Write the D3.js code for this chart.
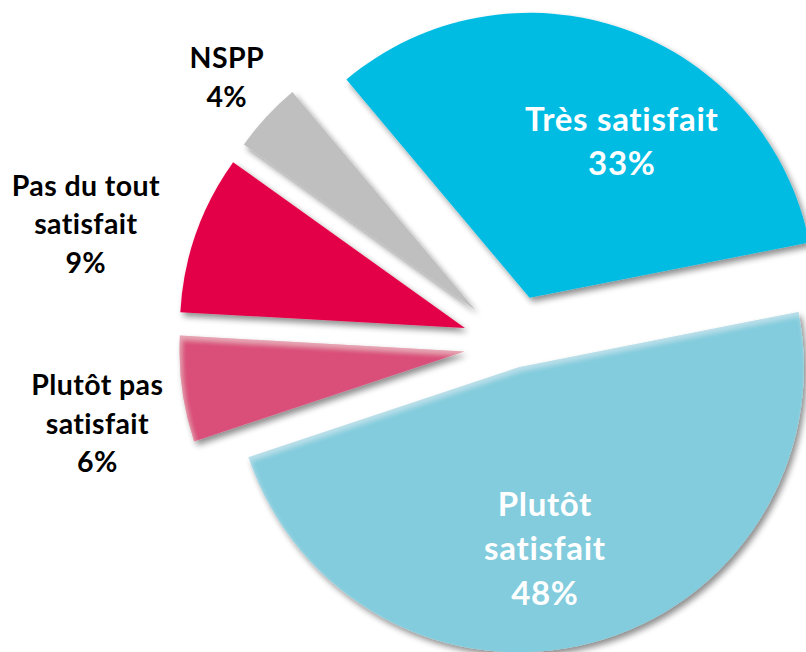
<!DOCTYPE html>
<html>
<head>
<meta charset="utf-8">
<script src="https://cdn.jsdelivr.net/npm/d3@7"></script>
<style>
  html, body { margin: 0; padding: 0; background: #fff; }
  svg { display: block; }
  text { font-variant-ligatures: none; font-feature-settings: "liga" 0; }
</style>
</head>
<body>
<div id="chart"></div>
<script>
// Données du camembert
const categories = ["Très satisfait", "Plutôt satisfait", "Plutôt pas satisfait", "Pas du tout satisfait", "NSPP"];
const values = [33, 48, 6, 9, 4];
const labelLines = [
  ["Très satisfait", "33%"],
  ["Plutôt", "satisfait", "48%"],
  ["Plutôt pas", "satisfait", "6%"],
  ["Pas du tout", "satisfait", "9%"],
  ["NSPP", "4%"]
];
const colors = ["#00bce3", "#82ccdd", "#d9507a", "#e40048", "#bfbfbf"];

// Mise en page
const width = 806, height = 652;
const cx = 513, cy = 345;
const radius = 285;
const explode = [50, 23, 49, 51, 51];
const inside = [true, true, false, false, false];
const labelRadius = [231, 206, 423, 444, 392];
const labelNudge = [8.7, 5.9, -3.1, -3.6, 0.3]; // degrés

const svg = d3.select("#chart")
  .append("svg")
  .attr("width", width)
  .attr("height", height);

// Ombre portée + léger biseau
const defs = svg.append("defs");
function makeFilter(id, bevel) {
  const f = defs.append("filter").attr("id", id)
    .attr("x", "-20%").attr("y", "-20%").attr("width", "140%").attr("height", "140%");
  f.append("feGaussianBlur").attr("in", "SourceAlpha").attr("stdDeviation", 3).attr("result", "blur");
  f.append("feOffset").attr("in", "blur").attr("dx", 3).attr("dy", 4).attr("result", "off");
  f.append("feComponentTransfer").attr("in", "off").attr("result", "shadow")
    .append("feFuncA").attr("type", "linear").attr("slope", 0.45);
  if (bevel) {
    f.append("feGaussianBlur").attr("in", "SourceAlpha").attr("stdDeviation", 2.5).attr("result", "b2");
    f.append("feOffset").attr("in", "b2").attr("dx", 2).attr("dy", 4).attr("result", "o2");
    f.append("feComposite").attr("in", "SourceAlpha").attr("in2", "o2").attr("operator", "out").attr("result", "edge");
    f.append("feFlood").attr("flood-color", "#ffffff").attr("flood-opacity", 0.35);
    f.append("feComposite").attr("in2", "edge").attr("operator", "in").attr("result", "hl");
  }
  const m = f.append("feMerge");
  m.append("feMergeNode").attr("in", "shadow");
  m.append("feMergeNode").attr("in", "SourceGraphic");
  if (bevel) m.append("feMergeNode").attr("in", "hl");
}
makeFilter("shadow", false);
makeFilter("bevel", true);

const pie = d3.pie()
  .sort(null)
  .startAngle(-40 * Math.PI / 180)
  .endAngle(320 * Math.PI / 180);

const arc = d3.arc().innerRadius(0).outerRadius(radius);

const arcs = pie(values);

const g = svg.append("g").attr("transform", `translate(${cx},${cy})`);

g.selectAll("path.slice")
  .data(arcs)
  .enter()
  .append("path")
  .attr("class", "slice")
  .attr("d", arc)
  .attr("fill", (d, i) => colors[i])
  .attr("filter", (d, i) => (i === 1 || i === 2) ? "url(#bevel)" : "url(#shadow)")
  .attr("transform", (d, i) => {
    const a = (d.startAngle + d.endAngle) / 2;
    return `translate(${Math.sin(a) * explode[i]},${-Math.cos(a) * explode[i]})`;
  });

// Étiquettes
arcs.forEach((d, i) => {
  const a = (d.startAngle + d.endAngle) / 2 + labelNudge[i] * Math.PI / 180;
  const x = Math.sin(a) * labelRadius[i];
  const y = -Math.cos(a) * labelRadius[i];
  const fs = inside[i] ? 33 : 28.5;
  const lh = inside[i] ? 44.5 : 38.5;
  const lines = labelLines[i];
  const first = y - (lines.length - 1) / 2 * lh + fs * 0.36;
  const t = g.append("text")
    .attr("text-anchor", "middle")
    .attr("font-family", "Lato, 'Open Sans', sans-serif")
    .attr("font-weight", "bold")
    .attr("font-size", fs)
    .attr("letter-spacing", inside[i] ? 0.7 : 0.4)
    .attr("fill", inside[i] ? "#ffffff" : "#000000");
  lines.forEach((s, k) => {
    t.append("tspan").attr("x", x).attr("y", first + k * lh).text(s);
  });
});
</script>
</body>
</html>
